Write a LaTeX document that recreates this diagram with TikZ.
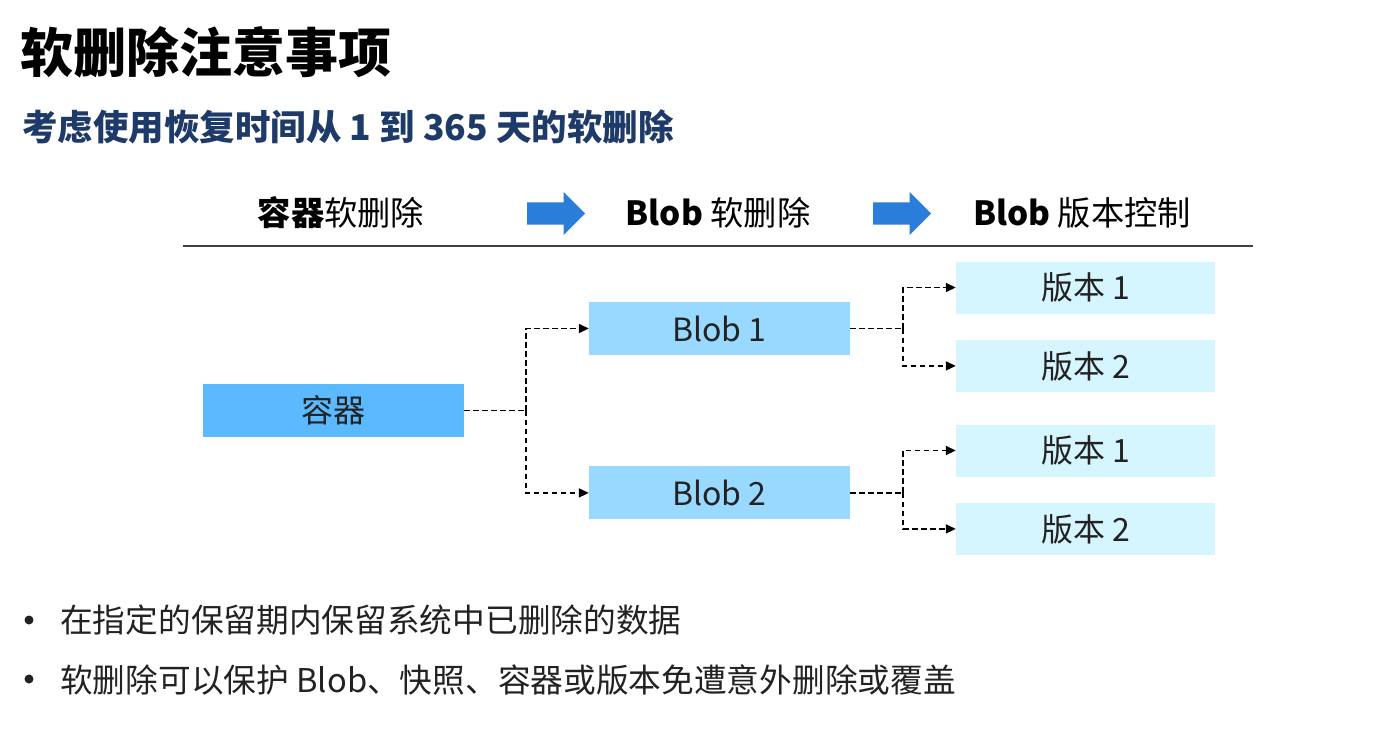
\documentclass[tikz,border=0pt]{standalone}
\usepackage{fontspec}
\setmainfont{Noto Sans CJK SC}
\usetikzlibrary{positioning, arrows.meta, shapes.arrows}

\definecolor{subnavy}{RGB}{30,58,104}
\definecolor{arrowblue}{RGB}{42,125,217}
\definecolor{containerblue}{RGB}{91,185,255}
\definecolor{blobblue}{RGB}{153,217,255}
\definecolor{versioncyan}{RGB}{214,246,255}
\definecolor{textdark}{RGB}{34,34,34}

\begin{document}
\begin{tikzpicture}[
    x=1pt, y=-1pt,
    node distance=25pt,
    title/.style={anchor=west, inner sep=0pt, font=\fontsize{53}{60}\selectfont\bfseries},
    subtitle/.style={anchor=west, inner sep=0pt, text=subnavy, font=\fontsize{35.5}{40}\selectfont\bfseries},
    header/.style={inner sep=0pt, font=\fontsize{33.3}{38}\selectfont},
    step_arrow/.style={single arrow, anchor=tail, fill=arrowblue, inner xsep=0pt, inner ysep=11pt, minimum height=58pt, single arrow head extend=10.5pt},
    box/.style={rectangle, inner sep=0pt, minimum width=261pt, minimum height=53pt, text=textdark, font=\fontsize{32}{36}\selectfont},
    container_box/.style={box, fill=containerblue},
    blob_box/.style={box, fill=blobblue},
    version_box/.style={box, fill=versioncyan, minimum width=259pt, minimum height=52pt},
    dashed_line/.style={line width=1.6pt, dash pattern=on 5.5pt off 3.5pt},
    dashed_arrow/.style={dashed_line, -{Triangle[length=10pt, width=9pt]}},
    rule/.style={line width=1.5pt, draw=black!75},
    list_item/.style={anchor=west, inner sep=0pt, text=textdark, font=\fontsize{32.7}{38}\selectfont},
    bullet_dot/.style={circle, fill=textdark, draw=none, inner sep=0pt, minimum size=9pt},
]
\useasboundingbox (0,0) rectangle (1384,740);

%% TITLES
    \node[title] (title) at (20,52) {软删除注意事项};
    \node[subtitle] (subtitle) at (22,127) {考虑使用恢复时间从 1 到 365 天的软删除};

%% HEADER
    \node[header] (step1) at (341,213) {{\bfseries 容器}软删除};
    \node[step_arrow] (arrow1) at (527,213.5) {};
    \node[header] (step2) at (718,213) {{\bfseries Blob} 软删除};
    \node[step_arrow] (arrow2) at (873,213.5) {};
    \node[header] (step3) at (1082,213) {{\bfseries Blob} 版本控制};

    \coordinate (rule_l) at (183,246);
    \coordinate (rule_r) at (1253,246);
    \draw[rule] (rule_l) -- (rule_r);

%% NODES
    % container and blobs
    \node[container_box] (container) at (333.5,410.5) {容器};
    \node[blob_box] (blob1) at (719.5,328.5) {Blob 1};
    \node[blob_box, below=111pt of blob1] (blob2) {Blob 2};

    % versions
    \node[version_box] (ver11) at (1085.5,287.5) {版本 1};
    \node[version_box, below=26pt of ver11] (ver12) {版本 2};
    \node[version_box] (ver21) at (1085.5,450.5) {版本 1};
    \node[version_box, below=26pt of ver21] (ver22) {版本 2};

%% CONNECTORS
    \draw[dashed_line] (container.east) -- ++(62pt,0) coordinate (fork_c);
    \draw[dashed_arrow] (fork_c) |- (blob1.west);
    \draw[dashed_arrow] (fork_c) |- (blob2.west);

    \draw[dashed_line] (blob1.east) -- ++(53pt,0) coordinate (fork_b1);
    \draw[dashed_arrow] (fork_b1) |- (ver11.west);
    \draw[dashed_arrow] (fork_b1) |- (ver12.west);

    \draw[dashed_line] (blob2.east) -- ++(53pt,0) coordinate (fork_b2);
    \draw[dashed_arrow] (fork_b2) |- (ver21.west);
    \draw[dashed_arrow] (fork_b2) |- (ver22.west);

%% BULLETS
    \node[bullet_dot] (dot1) at (29,620) {};
    \node[list_item] (item1) at (60,620) {在指定的保留期内保留系统中已删除的数据};
    \node[bullet_dot] (dot2) at (29,679) {};
    \node[list_item] (item2) at (60,680) {软删除可以保护 Blob、快照、容器或版本免遭意外删除或覆盖};

\end{tikzpicture}
\end{document}
